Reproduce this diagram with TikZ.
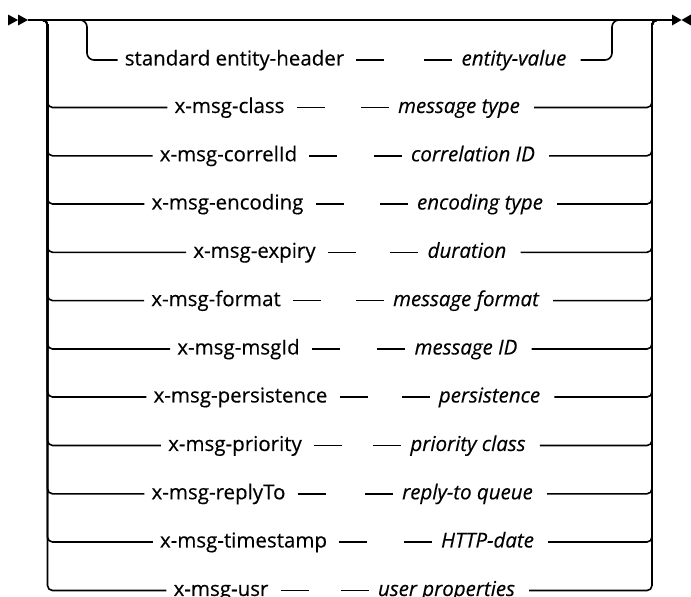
\documentclass[tikz,border=0pt]{standalone}
\usepackage{fontspec}
\setmainfont{Open Sans}[FakeBold=0.3]
\begin{document}
\fontsize{20.5}{24}\selectfont
\begin{tikzpicture}[x=1pt,y=-1pt,
  track/.style={line width=1.6pt,rounded corners=5pt},
  kw/.style={anchor=mid,inner xsep=7pt},
  val/.style={anchor=mid,inner xsep=9pt,font=\itshape},
  tip/.style={fill=black}]
% 语法图示意
\useasboundingbox (0,0) rectangle (691,597);
\coordinate (s) at (28,20);
\coordinate (e) at (672,20);
\coordinate (lt) at (47.5,20);
\coordinate (rt) at (652,20);
\coordinate (sl) at (87,20);
\coordinate (sr) at (612,20);
\fill[tip] (8,14.5) -- (18,20) -- (8,25.5) -- cycle;
\fill[tip] (18,14.5) -- (28,20) -- (18,25.5) -- cycle;
\fill[tip] (672,14.5) -- (681.5,20) -- (672,25.5) -- cycle;
\fill[tip] (691,14.5) -- (681.5,20) -- (691,25.5) -- cycle;
\draw[track] (s) -- (e);
\node[kw] (k0) at (234.5,60) {standard entity-header};
\node[val] (v0) at (514,60) {entity-value};
\node[kw] (k1) at (229.5,107.5) {x-msg-class};
\node[val] (v1) at (459,107.5) {message type};
\node[kw] (k2) at (228.5,155.8) {x-msg-correlId};
\node[val] (v2) at (473,155.8) {correlation ID};
\node[kw] (k3) at (227.5,204) {x-msg-encoding};
\node[val] (v3) at (480,204) {encoding type};
\node[kw] (k4) at (254.5,252.3) {x-msg-expiry};
\node[val] (v4) at (467,252.3) {duration};
\node[kw] (k5) at (216,300.6) {x-msg-format};
\node[val] (v5) at (466,300.6) {message format};
\node[kw] (k6) at (238.5,349) {x-msg-msgId};
\node[val] (v6) at (466,349) {message ID};
\node[kw] (k7) at (240.5,397) {x-msg-persistence};
\node[val] (v7) at (489.5,397) {persistence};
\node[kw] (k8) at (235,445.5) {x-msg-priority};
\node[val] (v8) at (468,445.5) {priority class};
\node[kw] (k9) at (218.5,493.8) {x-msg-replyTo};
\node[val] (v9) at (467.5,493.8) {reply-to queue};
\node[kw] (k10) at (243.5,542) {x-msg-timestamp};
\node[val] (v10) at (487.5,542) {HTTP-date};
\node[kw] (k11) at (221,590.5) {x-msg-usr};
\node[val] (v11) at (446.5,590.5) {user properties};
\draw[track,rounded corners=7pt] (lt) -- (sl) |- (k0.mid west);
\draw[track,rounded corners=7pt] ([xshift=5pt]v0.mid east) -| (sr) -- (rt);
\draw[track] (k0.mid east) ++(5,0) -- ++(28,0);
\draw[track] (v0.mid west) -- ++(-28,0);
\draw[track] (s) -- (lt) |- (k1.mid west);
\draw[track] (s) -- (lt) |- (k2.mid west);
\draw[track] (s) -- (lt) |- (k3.mid west);
\draw[track] (s) -- (lt) |- (k4.mid west);
\draw[track] (s) -- (lt) |- (k5.mid west);
\draw[track] (s) -- (lt) |- (k6.mid west);
\draw[track] (s) -- (lt) |- (k7.mid west);
\draw[track] (s) -- (lt) |- (k8.mid west);
\draw[track] (s) -- (lt) |- (k9.mid west);
\draw[track] (s) -- (lt) |- (k10.mid west);
\draw[track] (s) -- (lt) |- (k11.mid west);
\draw[track] (k1.mid east) ++(5,0) -- ++(28,0);
\draw[track] (k2.mid east) ++(5,0) -- ++(28,0);
\draw[track] (k3.mid east) ++(5,0) -- ++(28,0);
\draw[track] (k4.mid east) ++(5,0) -- ++(28,0);
\draw[track] (k5.mid east) ++(5,0) -- ++(28,0);
\draw[track] (k6.mid east) ++(5,0) -- ++(28,0);
\draw[track] (k7.mid east) ++(5,0) -- ++(28,0);
\draw[track] (k8.mid east) ++(5,0) -- ++(28,0);
\draw[track] (k9.mid east) ++(5,0) -- ++(28,0);
\draw[track] (k10.mid east) ++(5,0) -- ++(28,0);
\draw[track] (k11.mid east) ++(5,0) -- ++(28,0);
\draw[track] (v1.mid west) -- ++(-28,0);
\draw[track] (v2.mid west) -- ++(-28,0);
\draw[track] (v3.mid west) -- ++(-28,0);
\draw[track] (v4.mid west) -- ++(-28,0);
\draw[track] (v5.mid west) -- ++(-28,0);
\draw[track] (v6.mid west) -- ++(-28,0);
\draw[track] (v7.mid west) -- ++(-28,0);
\draw[track] (v8.mid west) -- ++(-28,0);
\draw[track] (v9.mid west) -- ++(-28,0);
\draw[track] (v10.mid west) -- ++(-28,0);
\draw[track] (v11.mid west) -- ++(-28,0);
\draw[track] ([xshift=5pt]v1.mid east) -| (rt) -- (e);
\draw[track] ([xshift=5pt]v2.mid east) -| (rt) -- (e);
\draw[track] ([xshift=5pt]v3.mid east) -| (rt) -- (e);
\draw[track] ([xshift=5pt]v4.mid east) -| (rt) -- (e);
\draw[track] ([xshift=5pt]v5.mid east) -| (rt) -- (e);
\draw[track] ([xshift=5pt]v6.mid east) -| (rt) -- (e);
\draw[track] ([xshift=5pt]v7.mid east) -| (rt) -- (e);
\draw[track] ([xshift=5pt]v8.mid east) -| (rt) -- (e);
\draw[track] ([xshift=5pt]v9.mid east) -| (rt) -- (e);
\draw[track] ([xshift=5pt]v10.mid east) -| (rt) -- (e);
\draw[track] ([xshift=5pt]v11.mid east) -| (rt) -- (e);
\end{tikzpicture}
\end{document}
